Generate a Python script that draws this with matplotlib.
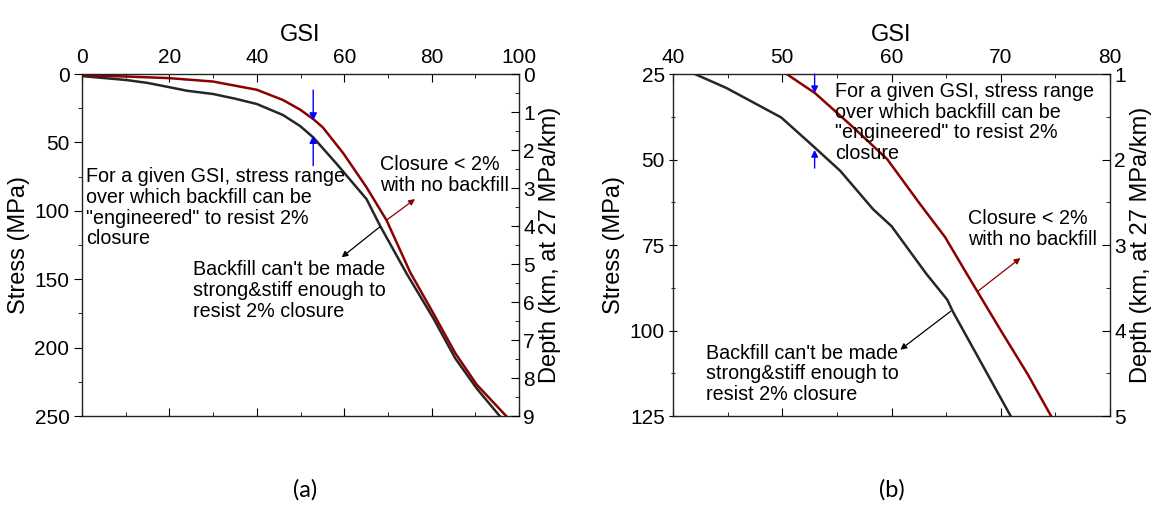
"""
GSI vs stress: closure < 2% limits with and without engineered backfill.
(a) full range, (b) close-up of GSI 40-80.
"""

import matplotlib.pyplot as plt
from matplotlib.ticker import MultipleLocator

plt.rcParams["font.family"] = ["Liberation Sans", "DejaVu Sans"]

RED = "#8b0000"
BLACK = "#262626"

# panel (a) curves
gsi_red_a = [0, 10, 20, 30, 40, 46, 49.9, 52.9, 55.1, 59.8, 65.1, 69.7, 75.1, 80.4, 85.4, 90.3, 97.2]
stress_red_a = [1, 1.8, 3, 5.5, 11.5, 19, 26, 32.9, 39, 58, 82.8, 107, 145, 175, 204, 227, 250.5]
gsi_black_a = [0, 10.2, 15, 20.1, 24, 30, 35, 40, 46, 49.9, 52.9, 58.3, 65.1, 68.2, 74.3,
               80.4, 85.4, 90.3, 95.7]
stress_black_a = [1.5, 4.4, 6.5, 9.7, 12.2, 14.6, 18, 21.9, 30, 38, 46.3, 65.8, 91.4, 110.9, 146,
                  178.6, 207.8, 229.8, 250.5]

# panel (b) curves (zoomed)
gsi_red_b = [50.4, 53, 56.5, 59.6, 62.6, 64.9, 66.9, 70, 72.5, 74.6]
stress_red_b = [25, 30.6, 40.6, 49.9, 63, 72.7, 83.5, 100, 113, 125]
gsi_black_b = [42, 44.9, 49.9, 52.8, 55.3, 58.3, 60, 63.2, 65.1, 65.6, 70.9]
stress_black_b = [25, 29.1, 37.7, 46, 53.3, 64.5, 69.5, 83.5, 91, 94.4, 125]

TXT_RANGE = 'For a given GSI, stress range\nover which backfill can be\n"engineered" to resist 2%\nclosure'
TXT_NOFILL = "Closure < 2%\nwith no backfill"
TXT_CANT = "Backfill can't be made\nstrong&stiff enough to\nresist 2% closure"

TICK_FS = 15
LABEL_FS = 17
NOTE_FS = 14.2


def style_axes(ax, xlim, ylim, xmaj, xmin, ymaj, ymin, left_dir):
    ax.set_xlim(*xlim)
    ax.set_ylim(*ylim)
    ax.xaxis.set_major_locator(MultipleLocator(xmaj))
    ax.xaxis.set_minor_locator(MultipleLocator(xmin))
    ax.yaxis.set_major_locator(MultipleLocator(ymaj))
    ax.yaxis.set_minor_locator(MultipleLocator(ymin))
    ax.xaxis.tick_top()
    ax.xaxis.set_label_position("top")
    ax.tick_params(axis="x", which="both", top=True, bottom=True, direction="in",
                   labeltop=True, labelbottom=False, labelsize=TICK_FS, pad=5)
    ax.tick_params(axis="x", which="major", length=6)
    ax.tick_params(axis="x", which="minor", length=3)
    ax.tick_params(axis="y", which="both", left=True, right=False, direction=left_dir,
                   labelsize=TICK_FS, pad=3)
    ax.tick_params(axis="y", which="major", length=6)
    ax.tick_params(axis="y", which="minor", length=3)
    ax.set_xlabel("GSI", fontsize=LABEL_FS, labelpad=5)
    ax.set_ylabel("Stress (MPa)", fontsize=LABEL_FS, labelpad=3)
    for sp in ax.spines.values():
        sp.set_linewidth(1.0)
        sp.set_color("#222222")


def right_axis(ax, ylim, maj):
    ax2 = ax.twinx()
    ax2.set_ylim(*ylim)
    ax2.yaxis.set_major_locator(MultipleLocator(maj))
    ax2.yaxis.set_minor_locator(MultipleLocator(maj / 2))
    ax2.tick_params(axis="y", which="both", direction="in", labelsize=TICK_FS, pad=3)
    ax2.tick_params(axis="y", which="major", length=6)
    ax2.tick_params(axis="y", which="minor", length=3)
    ax2.set_ylabel("Depth (km, at 27 MPa/km)", fontsize=LABEL_FS, labelpad=3)
    for sp in ax2.spines.values():
        sp.set_visible(False)
    return ax2


def arrow(ax, start, end, color, lw=1.0, ms=10):
    ax.annotate("", xy=end, xytext=start,
                arrowprops=dict(arrowstyle="-|>", color=color, lw=lw,
                                mutation_scale=ms, shrinkA=0, shrinkB=0))


def main():
    fig = plt.figure(figsize=(11.63, 5.05), dpi=100)
    ax_a = fig.add_axes([0.0705, 0.1762, 0.3758, 0.6772])
    ax_b = fig.add_axes([0.5787, 0.1762, 0.3758, 0.6772])

    # ---- (a)
    ax_a.plot(gsi_black_a, stress_black_a, color=BLACK, lw=1.8)
    ax_a.plot(gsi_red_a, stress_red_a, color=RED, lw=1.8)
    style_axes(ax_a, (0, 100), (250, 0), 20, 10, 50, 25, "out")
    right_axis(ax_a, (9, 0), 1)

    arrow(ax_a, (52.9, 11.7), (52.9, 34), "blue", ms=11)
    arrow(ax_a, (52.9, 67), (52.9, 45), "blue", ms=11)
    arrow(ax_a, (69.6, 107), (76.2, 91.4), RED, lw=0.9, ms=9)
    arrow(ax_a, (68.2, 111.6), (59.4, 134), "black", lw=0.9, ms=9)
    ax_a.text(1, 68, TXT_RANGE, fontsize=NOTE_FS, va="top", ha="left", linespacing=1.12)
    ax_a.text(68.2, 59, TXT_NOFILL, fontsize=NOTE_FS, va="top", ha="left", linespacing=1.12)
    ax_a.text(25.3, 136, TXT_CANT, fontsize=NOTE_FS, va="top", ha="left", linespacing=1.12)

    # ---- (b)
    ax_b.plot(gsi_black_b, stress_black_b, color=BLACK, lw=1.8)
    ax_b.plot(gsi_red_b, stress_red_b, color=RED, lw=1.8)
    style_axes(ax_b, (40, 80), (125, 25), 10, 5, 25, 12.5, "inout")
    right_axis(ax_b, (5, 1), 1)

    arrow(ax_b, (52.96, 25), (52.96, 30.6), "blue", ms=10)
    arrow(ax_b, (52.96, 52.5), (52.96, 47.2), "blue", ms=10)
    arrow(ax_b, (67.9, 88.5), (71.8, 78.8), RED, lw=0.9, ms=9)
    arrow(ax_b, (65.4, 94.4), (60.8, 105.6), "black", lw=0.9, ms=9)
    ax_b.text(54.8, 27.3, TXT_RANGE, fontsize=NOTE_FS, va="top", ha="left", linespacing=1.12)
    ax_b.text(67.0, 64.5, TXT_NOFILL, fontsize=NOTE_FS, va="top", ha="left", linespacing=1.12)
    ax_b.text(43.0, 103.8, TXT_CANT, fontsize=NOTE_FS, va="top", ha="left", linespacing=1.12)

    for x, lab in [(0.262, "(a)"), (0.7666, "(b)")]:
        fig.text(x, 0.03, lab, ha="center", va="center", fontsize=17,
                 family=["Lato", "DejaVu Sans"])

    fig.savefig("out.png", dpi=100)


if __name__ == "__main__":
    main()
